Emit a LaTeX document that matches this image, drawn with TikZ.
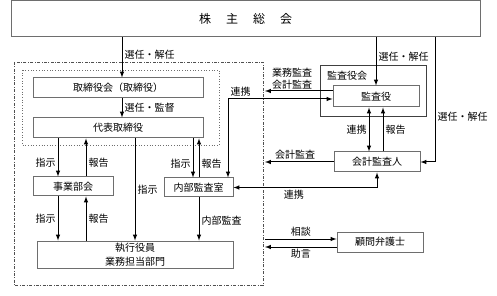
\documentclass[tikz,border=0pt]{standalone}
\usepackage{fontspec}
\setmainfont{Noto Sans CJK JP}
\usepackage{xcolor}
\usetikzlibrary{positioning, calc}

\tikzset{
  caixa/.style={draw=borda, fill=white, line width=1pt, inner sep=1pt, font=\fontsize{10}{13}\selectfont},
  rotulo/.style={font=\fontsize{10}{12}\selectfont, inner sep=2pt, align=center},
  seta/.style={->, >=latex, line width=1pt, color=black},
}

\begin{document}
\begin{tikzpicture}[x=1pt, y=-1pt]
% --- CORES HEX E MOLDURA ---
\definecolor{borda}{HTML}{6E6E6E}
\definecolor{tracejado}{HTML}{505050}
\useasboundingbox (0,0) rectangle (497,296);

% LAYER 1: Molduras (dash-dot externa e pontilhada interna)
\draw[color=tracejado, line width=0.8pt, dash pattern=on 3pt off 1.5pt on 0.8pt off 1.5pt] (14,62) rectangle (263,285);
\draw[color=borda, line width=0.7pt, dotted] (22,70) rectangle (219,145);
\draw[draw=black!75, line width=1pt] (320,66) rectangle (426,117);
\node[rotulo, anchor=west] (rotkansakai) at (325,76) {監査役会};
\coordinate (limite) at (265,0);
\coordinate (lateral) at (435,0);

% LAYER 2: Caixas
\node[caixa, minimum width=469pt, minimum height=36pt, font=\fontsize{12}{14}\selectfont] (acionistas) at (245.5,19) {株\kern15pt 主\kern15pt 総\kern15pt 会};
\node[caixa, minimum width=170pt, minimum height=20pt] (torikai) at (118,88) {取締役会（取締役）};
\node[caixa, minimum width=170pt, minimum height=20pt] (daihyo) at (118,128) {代表取締役};
\node[caixa, minimum width=80pt, minimum height=19pt] (jigyo) at (73,186.5) {事業部会};
\node[caixa, minimum width=69pt, minimum height=19pt] (naibu) at (198.5,187.5) {内部監査室};
\node[caixa, minimum width=196pt, minimum height=27pt, align=center, font=\fontsize{10}{14}\selectfont] (shikko) at (135,254.5) {執行役員\\業務担当部門};
\node[caixa, minimum width=86pt, minimum height=21pt] (kansayaku) at (376,96.5) {監査役};
\node[caixa, minimum width=86pt, minimum height=20pt] (kaikei) at (377,162) {会計監査人};
\node[caixa, minimum width=86pt, minimum height=20pt] (bengoshi) at (380,242) {顧問弁護士};

% LAYER 3: Setas do lado executivo
\draw[seta] ([xshift=4pt]torikai.north |- acionistas.south) -- node[rotulo, right, pos=0.42] {選任・解任} ([xshift=4pt]torikai.north);
\draw[seta] ([xshift=4pt]torikai.south) -- node[rotulo, right] {選任・監督} ([xshift=4pt]daihyo.north);
\draw[seta] ([xshift=-15pt]jigyo.north |- daihyo.south) -- node[rotulo, left, pos=0.65] {指示} ([xshift=-15pt]jigyo.north);
\draw[seta] ([xshift=13pt]jigyo.north) -- node[rotulo, right, pos=0.35] {報告} ([xshift=13pt]jigyo.north |- daihyo.south);
\draw[seta] ([xshift=-15pt]jigyo.south) -- node[rotulo, left] {指示} ([xshift=-15pt]jigyo.south |- shikko.north);
\draw[seta] ([xshift=13pt]jigyo.south |- shikko.north) -- node[rotulo, right] {報告} ([xshift=13pt]jigyo.south);
\draw[seta] (shikko.north |- daihyo.south) -- node[rotulo, right] {指示} (shikko.north);
\draw[seta] ([xshift=-5.5pt]naibu.north |- daihyo.south) -- node[rotulo, left, pos=0.65] {指示} ([xshift=-5.5pt]naibu.north);
\draw[seta] ([xshift=0.5pt]naibu.north) -- node[rotulo, right, pos=0.35] {報告} ([xshift=0.5pt]naibu.north |- daihyo.south);
\draw[seta] ([xshift=0.5pt]naibu.south) -- node[rotulo, right, pos=0.55] {内部監査} ([xshift=0.5pt]naibu.south |- shikko.north);

% LAYER 4: Setas do lado de auditoria
\draw[seta, <->] ([xshift=29.5pt]naibu.north) |- node[rotulo, anchor=south west, pos=0.5] {連携} ([yshift=-2.5pt]kansayaku.west);
\draw[seta] ([yshift=5.5pt]kansayaku.west) -- node[rotulo, above, pos=0.6, inner sep=1pt, font=\fontsize{10}{12}\selectfont] {業務監査\\会計監査} ([yshift=5.5pt]kansayaku.west -| limite);
\draw[seta] (kansayaku.north |- acionistas.south) -- node[rotulo, right, pos=0.4] {選任・解任} (kansayaku.north);
\draw[seta] (acionistas.south -| lateral) |- node[rotulo, right, pos=0.32] {選任・解任} (kaikei.east);
\draw[seta, <->] ([xshift=-8pt]kaikei.north) -- node[rotulo, left] {連携} ([xshift=-8pt]kaikei.north |- kansayaku.south);
\draw[seta] ([xshift=6pt]kaikei.north) -- node[rotulo, right] {報告} ([xshift=6pt]kaikei.north |- kansayaku.south);
\draw[seta] (kaikei.west) -- node[rotulo, above, pos=0.56] {会計監査} (kaikei.west -| limite);
\draw[seta, <->] (naibu.east) -| node[rotulo, below, pos=0.21] {連携} (kaikei.south);

% LAYER 5: Consultoria
\draw[seta] ([yshift=3pt]bengoshi.west -| limite) -- node[rotulo, above] {相談} ([yshift=3pt]bengoshi.west);
\draw[seta] ([yshift=-5pt]bengoshi.west) -- node[rotulo, below] {助言} ([yshift=-5pt]bengoshi.west -| limite);
\end{tikzpicture}
\end{document}
